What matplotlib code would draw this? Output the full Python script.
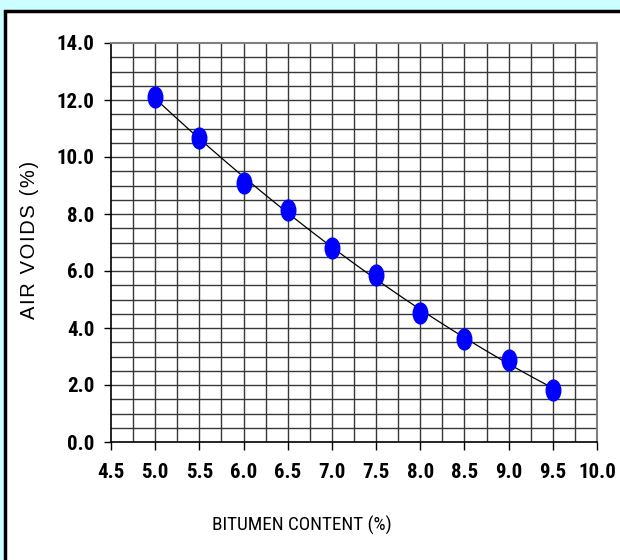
import numpy as np
import matplotlib
matplotlib.use("Agg")
import matplotlib.pyplot as plt
from matplotlib.path import Path
from matplotlib.transforms import Affine2D
from matplotlib.patches import Rectangle

bitumen = [5.0, 5.5, 6.0, 6.5, 7.0, 7.5, 8.0, 8.5, 9.0, 9.5]
air_voids = [12.12, 10.65, 9.08, 8.15, 6.82, 5.87, 4.52, 3.63, 2.87, 1.82]
x_ticks = [4.5, 5.0, 5.5, 6.0, 6.5, 7.0, 7.5, 8.0, 8.5, 9.0, 9.5, 10.0]
y_ticks = [0.0, 2.0, 4.0, 6.0, 8.0, 10.0, 12.0, 14.0]
x_label = "BITUMEN CONTENT (%)"
y_label = "AIR VOIDS (%)"

narrow = ["Roboto Condensed", "PT Sans Narrow", "Liberation Sans"]

fig = plt.figure(figsize=(6.2, 5.6), dpi=100)
fig.patch.set_facecolor("#ccffff")
# white panel with black border
panel = Rectangle((5/620, -0.1), 1.2, 1 - 11/560 + 0.1, transform=fig.transFigure,
                  facecolor="white", edgecolor="black", linewidth=2.5, zorder=-10)
fig.patches.append(panel)

ax = fig.add_axes([111/620, 1 - 442/560, (597-111)/620, (442-43)/560])
ax.set_zorder(1)
ax.patch.set_alpha(0)
ax.set_xlim(4.5, 10.0)
ax.set_ylim(0, 14)

# grid
for xv in np.arange(4.75, 10.0, 0.25):
    ax.axvline(xv, color="#383838", lw=1.0, zorder=1)
for yv in np.arange(0.5, 14.0, 0.5):
    ax.axhline(yv, color="#383838", lw=1.0, zorder=1)

# trend line (2nd order polynomial fit)
coef = np.polyfit(bitumen, air_voids, 2)
xs = np.linspace(min(bitumen), max(bitumen), 200)
ax.plot(xs, np.polyval(coef, xs), color="black", lw=0.9, zorder=3)

circ = Path.unit_circle()
ell = Affine2D().scale(0.7, 1.0).transform_path(circ)
ax.plot(bitumen, air_voids, linestyle="none", marker=ell, markersize=15,
        markerfacecolor="#0000ff", markeredgecolor="#0000ff", zorder=4)

ax.set_xticks(x_ticks)
ax.set_yticks(y_ticks)
ax.set_xticklabels([f"{v:.1f}" for v in x_ticks])
ax.set_yticklabels([f"{v:.1f}" for v in y_ticks])
for lab in ax.get_xticklabels() + ax.get_yticklabels():
    lab.set_fontfamily(narrow)
    lab.set_fontweight("bold")
    lab.set_fontsize(15)
ax.tick_params(axis="x", length=6, width=1, color="black", pad=9)
ax.tick_params(axis="y", length=5, width=1, color="black", pad=7)

for s in ["left", "bottom"]:
    ax.spines[s].set_color("black")
    ax.spines[s].set_linewidth(1.2)
for s in ["top", "right"]:
    ax.spines[s].set_color("#808080")
    ax.spines[s].set_linewidth(1.5)

fig.text(302/620, 1 - 525/560, x_label, ha="center", va="center",
         fontsize=13.8, family=narrow)
spaced = "\u200a".join(y_label)
fig.text(30/620, 1 - 240/560, spaced, ha="center", va="center",
         rotation=90, fontsize=14.5, family=["Liberation Sans", "DejaVu Sans"])

fig.savefig("out.png", dpi=100, facecolor=fig.get_facecolor())
